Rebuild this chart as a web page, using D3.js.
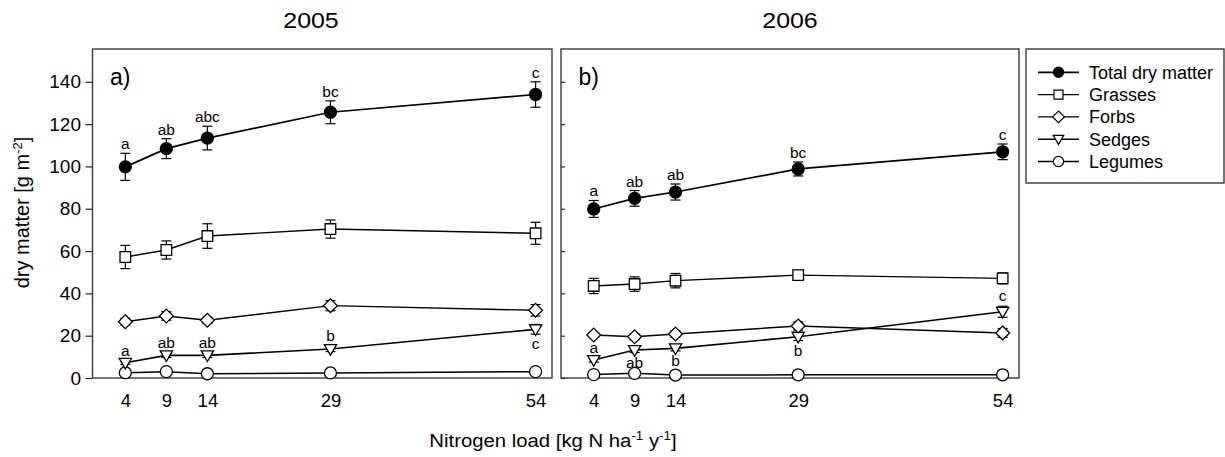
<!DOCTYPE html>
<html>
<head>
<meta charset="utf-8">
<script src="https://cdn.jsdelivr.net/npm/d3@7"></script>
<style>
  body { margin: 0; background: #fff; }
  text { font-family: "Liberation Sans", Arial, sans-serif; fill: #000; }
</style>
</head>
<body>
<div id="chart-area"></div>
<script>
// nitrogen load treatments (x values)
const nitrogen = [4, 9, 14, 29, 54];
const yTicks = [0, 20, 40, 60, 80, 100, 120, 140];
const years = ["2005", "2006"];
const panelTags = ["a)", "b)"];
const seriesNames = ["Total dry matter", "Grasses", "Forbs", "Sedges", "Legumes"];

// 2005 means and standard errors
const total2005 = [99.8, 108.4, 113.4, 125.6, 134.0];
const totalSe2005 = [6.4, 4.7, 5.6, 5.4, 6.0];
const grasses2005 = [57.2, 60.5, 67.1, 70.4, 68.4];
const grassesSe2005 = [5.5, 4.3, 5.8, 4.3, 5.2];
const forbs2005 = [26.6, 29.3, 27.3, 34.2, 32.0];
const forbsSe2005 = [1.6, 2.0, 1.5, 2.4, 2.7];
const sedges2005 = [7.2, 10.7, 10.7, 13.7, 23.0];
const sedgesSe2005 = [0.8, 1.0, 1.0, 1.2, 2.3];
const legumes2005 = [2.5, 3.0, 2.0, 2.4, 3.0];
const legumesSe2005 = [0.5, 0.6, 0.4, 0.4, 0.6];

// 2006 means and standard errors
const total2006 = [79.9, 84.9, 87.9, 98.8, 106.9];
const totalSe2006 = [4.0, 3.7, 3.8, 3.3, 3.7];
const grasses2006 = [43.5, 44.4, 46.0, 48.6, 47.1];
const grassesSe2006 = [3.6, 3.4, 3.4, 2.2, 2.6];
const forbs2006 = [20.3, 19.5, 20.8, 24.6, 21.3];
const forbsSe2006 = [1.0, 1.4, 1.5, 1.9, 2.1];
const sedges2006 = [8.5, 13.2, 14.0, 19.5, 31.3];
const sedgesSe2006 = [1.0, 1.2, 1.2, 1.8, 2.6];
const legumes2006 = [1.6, 2.2, 1.4, 1.5, 1.5];
const legumesSe2006 = [0.3, 0.4, 0.3, 0.3, 0.3];

// significance letters
const totalLetters2005 = ["a", "ab", "abc", "bc", "c"];
const sedgesLetters2005 = ["a", "ab", "ab", "b", "c"];
const totalLetters2006 = ["a", "ab", "ab", "bc", "c"];
const sedgesLetters2006 = ["a", "ab", "b", "b", "c"];

const W = 1225, H = 457;
const panels = [
    { left: 92.5, right: 552, titleX: 311, outerTicks: true },
    { left: 561, right: 1019, titleX: 790, outerTicks: false }
];
const plotTop = 49, plotBottom = 378;

const markerStyle = [
    { shape: "circle", fill: "#000", width: 1.7 },
    { shape: "square", fill: "#fff", width: 1.4 },
    { shape: "diamond", fill: "#fff", width: 1.4 },
    { shape: "triangle", fill: "#fff", width: 1.6 },
    { shape: "circle", fill: "#fff", width: 1.5 }
];

function markerPath(shape, s) {
    if (shape === "circle") return d3.symbol(d3.symbolCircle, Math.PI * s * s)();
    if (shape === "square") return `M${-s},${-s}H${s}V${s}H${-s}Z`;
    if (shape === "diamond") { const d = s * 1.3; return `M0,${-d}L${d},0L0,${d}L${-d},0Z`; }
    // downward triangle
    return `M${-s * 1.1},${-s * 0.8}L${s * 1.1},${-s * 0.8}L0,${s * 1.1}Z`;
}
const markerSize = [6, 5.3, 5.3, 5.6, 6];

const svg = d3.select("#chart-area").append("svg")
    .attr("width", W).attr("height", H);

const y = d3.scaleLinear().domain([0, 155.5]).range([plotBottom, plotTop]);

const yearData = [
    {
        means: [total2005, grasses2005, forbs2005, sedges2005, legumes2005],
        ses: [totalSe2005, grassesSe2005, forbsSe2005, sedgesSe2005, legumesSe2005],
        totalLetters: totalLetters2005, sedgesLetters: sedgesLetters2005,
        sedgesBelow: [false, false, false, false, true]
    },
    {
        means: [total2006, grasses2006, forbs2006, sedges2006, legumes2006],
        ses: [totalSe2006, grassesSe2006, forbsSe2006, sedgesSe2006, legumesSe2006],
        totalLetters: totalLetters2006, sedgesLetters: sedgesLetters2006,
        sedgesBelow: [false, true, true, true, false]
    }
];

panels.forEach((p, pi) => {
    const x = d3.scaleLinear().domain([0, 56]).range([p.left, p.right]);
    const g = svg.append("g");
    const yd = yearData[pi];

    // year title (slightly wide lettering in the original)
    svg.append("text")
        .attr("transform", `translate(${p.titleX},28) scale(1.16,1)`)
        .attr("text-anchor", "middle")
        .attr("font-size", "21.5px")
        .text(years[pi]);

    // y axis
    const yAxis = p.outerTicks
        ? d3.axisLeft(y).tickValues(yTicks).tickSize(7).tickPadding(4.5)
        : d3.axisRight(y).tickValues(yTicks).tickSize(4).tickFormat("");
    const yg = g.append("g")
        .attr("transform", `translate(${p.left},0)`)
        .call(yAxis);
    yg.select(".domain").remove();
    yg.selectAll(".tick line").attr("stroke", "#222").attr("stroke-width", 1.2);
    yg.selectAll("text")
        .attr("font-size", "19px")
        .attr("font-family", "Liberation Sans, Arial, sans-serif");

    // x axis, labels only
    const xg = g.append("g")
        .attr("transform", `translate(0,${plotBottom})`)
        .call(d3.axisBottom(x).tickValues(nitrogen).tickSize(0).tickPadding(16));
    xg.select(".domain").remove();
    xg.selectAll("text")
        .attr("font-size", "18.5px")
        .attr("font-family", "Liberation Sans, Arial, sans-serif");

    // frame
    g.append("rect")
        .attr("x", p.left).attr("y", plotTop)
        .attr("width", p.right - p.left).attr("height", plotBottom - plotTop)
        .attr("fill", "none").attr("stroke", "#3a3a3a").attr("stroke-width", 1.4);

    // panel tag
    g.append("text")
        .attr("x", x(0) + 17.5).attr("y", 85)
        .attr("font-size", "23px")
        .text(panelTags[pi]);

    const line = d3.line().x((d, i) => x(nitrogen[i])).y(d => y(d));

    // draw series from bottom to top of legend order so total is on top
    for (let s = seriesNames.length - 1; s >= 0; s--) {
        const means = yd.means[s], ses = yd.ses[s];
        const st = markerStyle[s];
        const sg = g.append("g");
        sg.append("path")
            .datum(means)
            .attr("d", line)
            .attr("fill", "none")
            .attr("stroke", "#000")
            .attr("stroke-width", st.width);

        const eb = sg.selectAll("g.err").data(means).join("g").attr("class", "err");
        eb.append("line")
            .attr("x1", (d, i) => x(nitrogen[i])).attr("x2", (d, i) => x(nitrogen[i]))
            .attr("y1", (d, i) => y(d - ses[i])).attr("y2", (d, i) => y(d + ses[i]))
            .attr("stroke", "#000").attr("stroke-width", 1.2);
        [1, -1].forEach(sign => {
            eb.append("line")
                .attr("x1", (d, i) => x(nitrogen[i]) - 5).attr("x2", (d, i) => x(nitrogen[i]) + 5)
                .attr("y1", (d, i) => y(d + sign * ses[i])).attr("y2", (d, i) => y(d + sign * ses[i]))
                .attr("stroke", "#000").attr("stroke-width", 1.2);
        });

        sg.selectAll("path.mark").data(means).join("path")
            .attr("class", "mark")
            .attr("transform", (d, i) => `translate(${x(nitrogen[i])},${y(d)})`)
            .attr("d", markerPath(st.shape, markerSize[s]))
            .attr("fill", st.fill)
            .attr("stroke", "#000")
            .attr("stroke-width", 1.3);
    }

    // significance letters for total dry matter (above)
    g.selectAll("text.tl").data(yd.totalLetters).join("text")
        .attr("class", "tl")
        .attr("x", (d, i) => x(nitrogen[i]))
        .attr("y", (d, i) => y(yd.means[0][i] + yd.ses[0][i]) - 4)
        .attr("text-anchor", "middle")
        .attr("font-size", "15.5px")
        .text(d => d);

    // significance letters for sedges
    g.selectAll("text.sl").data(yd.sedgesLetters).join("text")
        .attr("class", "sl")
        .attr("x", (d, i) => x(nitrogen[i]))
        .attr("y", (d, i) => yd.sedgesBelow[i]
            ? y(yd.means[3][i] - yd.ses[3][i]) + 15
            : y(yd.means[3][i] + yd.ses[3][i]) - 5)
        .attr("text-anchor", "middle")
        .attr("font-size", "15.5px")
        .text(d => d);
});

// axis titles
svg.append("text")
    .attr("transform", "translate(553,447) scale(1.07,1)")
    .attr("text-anchor", "middle")
    .attr("font-size", "19px")
    .html('Nitrogen load [kg N ha<tspan dy="-7" font-size="12.5px">-1</tspan><tspan dy="7"> y</tspan><tspan dy="-7" font-size="12.5px">-1</tspan><tspan dy="7">]</tspan>');

svg.append("text")
    .attr("transform", "translate(28.5,212.5) rotate(-90)")
    .attr("text-anchor", "middle")
    .attr("font-size", "20px")
    .html('dry matter [g m<tspan dy="-7" font-size="13px">-2</tspan><tspan dy="7">]</tspan>');

// legend
const legend = svg.append("g");
legend.append("rect")
    .attr("x", 1026).attr("y", 49)
    .attr("width", 198).attr("height", 134)
    .attr("fill", "#fff").attr("stroke", "#3a3a3a").attr("stroke-width", 1.4);

const li = legend.selectAll("g.item").data(seriesNames).join("g")
    .attr("class", "item")
    .attr("transform", (d, i) => `translate(0,${72.3 + i * 22.3})`);
li.append("line")
    .attr("x1", 1038).attr("x2", 1079)
    .attr("stroke", "#000")
    .attr("stroke-width", (d, i) => markerStyle[i].width);
li.append("path")
    .attr("transform", "translate(1058.5,0)")
    .attr("d", (d, i) => markerPath(markerStyle[i].shape, markerSize[i] * 0.85))
    .attr("fill", (d, i) => markerStyle[i].fill)
    .attr("stroke", "#000").attr("stroke-width", 1.2);
li.append("text")
    .attr("x", 1089).attr("dy", "0.36em")
    .attr("font-size", "18px")
    .text(d => d);
</script>
</body>
</html>
